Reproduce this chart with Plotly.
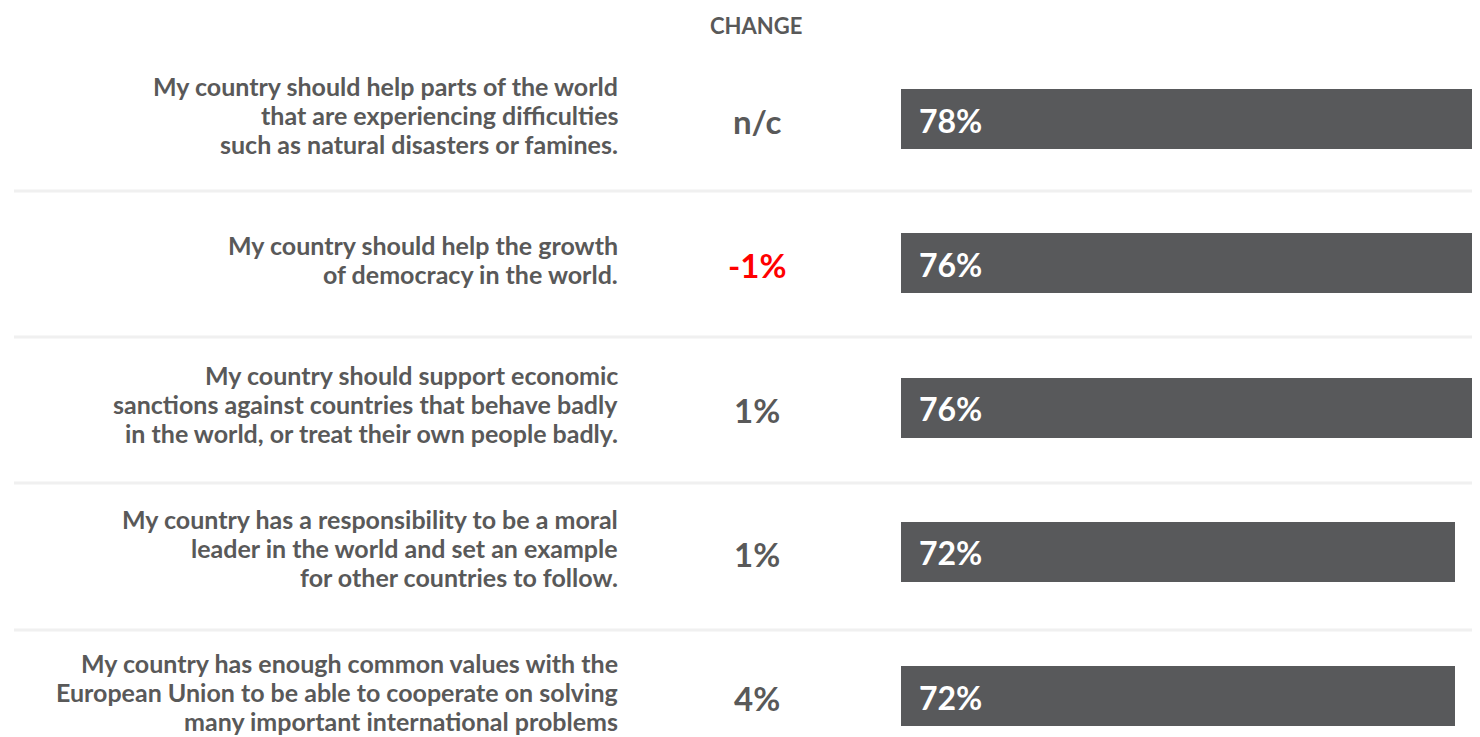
import plotly.graph_objects as go

statements = [
    "My country should help parts of the world<br>that are experiencing difficulties<br>such as natural disasters or famines.",
    "My country should help the growth<br>of democracy in the world.",
    "My country should support economic<br>sanctions against countries that behave badly<br>in the world, or treat their own people badly.",
    "My country has a responsibility to be a moral<br>leader in the world and set an example<br>for other countries to follow.",
    "My country has enough common values with the<br>European Union to be able to cooperate on solving<br>many important international problems",
]
values = [78, 76, 76, 72, 72]
changes = ["n/c", "-1%", "1%", "1%", "4%"]
change_colors = ["#595959", "#ff0000", "#595959", "#595959", "#595959"]
header = "CHANGE"

W, H = 1480, 737
FONT = "Lato"
TXT = "#595959"
BAR = "#58595b"
PITCH = 144.25  # px per row

ypos = list(range(len(values)))

fig = go.Figure()
fig.add_trace(go.Bar(
    x=values, y=ypos, orientation="h",
    marker=dict(color=BAR, line=dict(width=0)),
    width=60 / PITCH, hoverinfo="skip",
))

ann = []
for i, (s, v, c, cc) in enumerate(zip(statements, values, changes, change_colors)):
    lines = s.split("<br>")
    n = len(lines)
    for j, ln in enumerate(lines):
        ann.append(dict(
            x=611 / W, xref="paper", y=i, yref="y", text="<b>" + ln + "</b>",
            xanchor="right", yanchor="middle", showarrow=False,
            yshift=-(j - (n - 1) / 2) * 29 + 4, borderpad=0,
            font=dict(family=FONT, size=25, color=TXT),
        ))
    ann.append(dict(
        x=749 / W, xref="paper", y=i, yref="y", text="<b>" + c + "</b>",
        xanchor="center", yanchor="middle", showarrow=False, yshift=-2,
        font=dict(family=FONT, size=33, color=cc),
    ))
    ann.append(dict(
        x=0, xref="x", y=i, yref="y", text="<b>%d%%</b>" % v,
        xanchor="left", yanchor="middle", showarrow=False, xshift=16, yshift=-1,
        font=dict(family=FONT, size=32, color="white"),
    ))

ann.append(dict(
    x=748 / W, xref="paper", y=1 - 17 / H, yref="paper", text="<b>" + header + "</b>",
    xanchor="center", yanchor="middle", showarrow=False,
    font=dict(family=FONT, size=22, color=TXT),
))

sep_px = [183, 329, 475, 622]
shapes = []
for p in sep_px:
    yv = (p - 111) / PITCH
    shapes.append(dict(
        type="line", xref="paper", yref="y", x0=6 / W, x1=1, y0=yv, y1=yv,
        line=dict(color="#f0f0f0", width=3), layer="below",
    ))

top = -111 / PITCH
bottom = top + H / PITCH
fig.update_layout(
    width=W, height=H,
    margin=dict(l=0, r=0, t=0, b=0),
    paper_bgcolor="white", plot_bgcolor="white",
    showlegend=False,
    xaxis=dict(domain=[893 / W, 1], range=[0, 587 / (554 / 72)], visible=False, fixedrange=True),
    yaxis=dict(range=[bottom, top], visible=False, fixedrange=True),
    annotations=ann, shapes=shapes,
    bargap=0,
)

fig.write_html("out.html", config={"displayModeBar": False})
